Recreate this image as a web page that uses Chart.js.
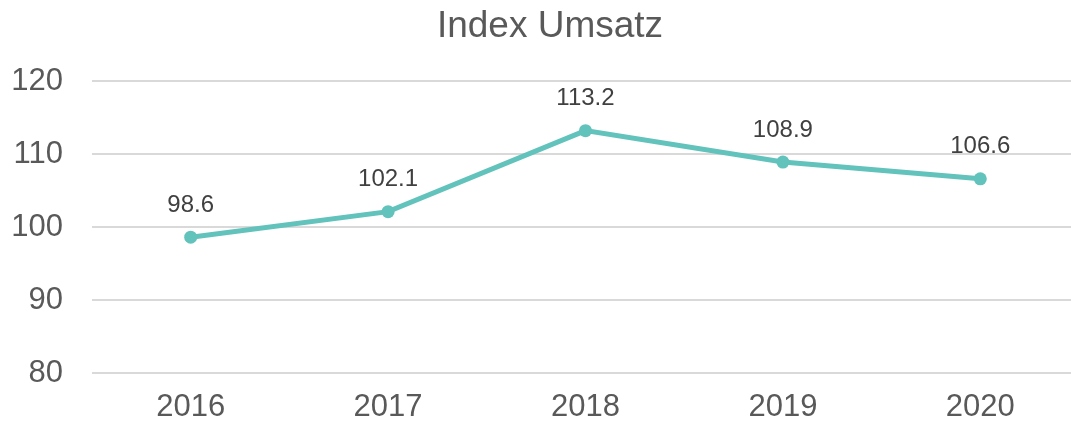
<!DOCTYPE html>
<html>
<head>
<meta charset="utf-8">
<script src="https://cdn.jsdelivr.net/npm/chart.js@4"></script>
<style>
  html, body { margin: 0; padding: 0; background: #fff; }
  #wrap { width: 1071px; height: 427px; }
</style>
</head>
<body>
<div id="wrap"><canvas id="chart"></canvas></div>
<script>
const TITLE = "Index Umsatz";
const YEARS = ["2016", "2017", "2018", "2019", "2020"];
const INDEX = [98.6, 102.1, 113.2, 108.9, 106.6];
const Y_TICKS = [80, 90, 100, 110, 120];

const FONT = "'Liberation Sans', Arial, sans-serif";
const TEAL = "#62c2bc";
const PLOT_RIGHT = 1079; // plot box runs a bit past the canvas edge, like the original

// stretch the plot box to the right after layout
const widen = {
  id: "widen",
  afterLayout(chart) {
    const a = chart.chartArea;
    a.right = PLOT_RIGHT; a.width = a.right - a.left;
    const x = chart.scales.x;
    x.right = PLOT_RIGHT; x.width = x.right - x.left;
    x.configure();
    const y = chart.scales.y;
    y.configure();
  }
};

// title drawn centred over the picture, value labels above the points
const overlay = {
  id: "overlay",
  afterDatasetsDraw(chart) {
    const ctx = chart.ctx;
    ctx.save();
    ctx.fillStyle = "#595959";
    ctx.font = "37px " + FONT;
    ctx.textAlign = "center";
    ctx.textBaseline = "middle";
    ctx.fillText(TITLE, 550, 27);

    ctx.fillStyle = "#404040";
    ctx.font = "24px " + FONT;
    chart.getDatasetMeta(0).data.forEach((pt, i) => {
      ctx.fillText(INDEX[i].toFixed(1), pt.x, pt.y - 32);
    });
    ctx.restore();
  }
};

new Chart(document.getElementById("chart"), {
  type: "line",
  data: {
    labels: YEARS,
    datasets: [{
      data: INDEX,
      borderColor: TEAL, backgroundColor: TEAL,
      borderWidth: 5, tension: 0,
      pointRadius: 6.5, pointHoverRadius: 6.5, pointBorderWidth: 0,
    }]
  },
  options: {
    responsive: true, maintainAspectRatio: false, animation: false,
    layout: { padding: { top: 81, right: 0, bottom: 0, left: 0 } },
    plugins: { legend: { display: false }, tooltip: { enabled: false }, title: { display: false } },
    scales: {
      x: {
        offset: true,
        grid: { display: false, drawTicks: false },
        border: { display: false },
        ticks: { color: "#595959", font: { family: FONT, size: 31 }, padding: 16, maxRotation: 0 },
        afterFit: (s) => { s.height = 54; },
      },
      y: {
        min: 80, max: 120,
        afterBuildTicks: (s) => { s.ticks = Y_TICKS.map((v) => ({ value: v })); },
        grid: { color: "#d9d9d9", lineWidth: 2, drawTicks: false },
        border: { display: false },
        ticks: { color: "#595959", font: { family: FONT, size: 31 }, padding: 29 },
        afterFit: (s) => { s.width = 92; },
      }
    }
  },
  plugins: [widen, overlay]
});
</script>
</body>
</html>
